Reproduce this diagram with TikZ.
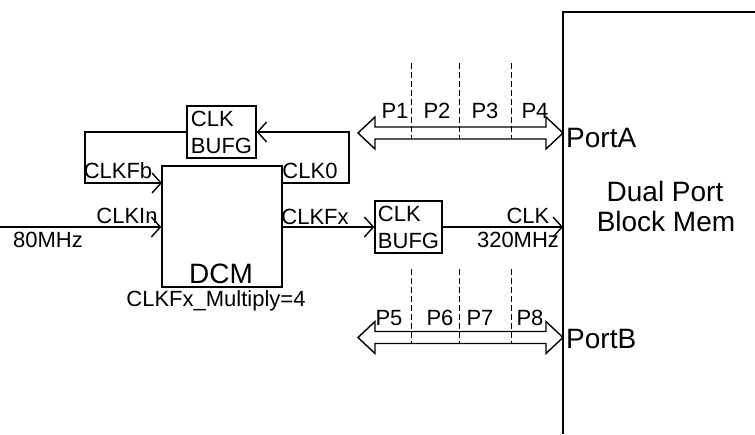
\documentclass[tikz,border=0pt]{standalone}
\usepackage{fontspec}
\setmainfont{Liberation Sans}
\usetikzlibrary{calc, arrows.meta}

\tikzset{
  blk/.style={draw, line width=1.4pt, rectangle, inner sep=0pt},
  sig/.style={line width=1.4pt, -{Straight Barb[length=9pt,width=20pt]}},
  lbl/.style={font=\fontsize{22}{27}\selectfont, inner sep=0pt, anchor=base},
  biglbl/.style={font=\fontsize{28}{30}\selectfont, inner sep=0pt, anchor=base},
  divider/.style={line width=0.8pt, dash pattern=on 6pt off 3pt},
  bus/.pic={
    \draw[line width=1.4pt, line join=miter] (0,0) -- (17,-16) -- (17,-6) -- (188,-6) -- (188,-16)
      -- (205,0) -- (188,16) -- (188,6) -- (17,6) -- (17,16) -- cycle;
  }
}

\begin{document}
\begin{tikzpicture}[x=1pt, y=-1pt]
  \useasboundingbox (0,0) rectangle (755,434);
  % blocks
  \node[blk, minimum width=120pt, minimum height=121pt] (dcm) at (222,226.5) {};
  \node[blk, minimum width=69pt, minimum height=52pt, align=left,
        font=\fontsize{22}{27}\selectfont] (bufgA) at (221.5,132) {CLK\\BUFG};
  \node[blk, minimum width=67pt, minimum height=52pt, align=left,
        font=\fontsize{22}{27}\selectfont] (bufgB) at (408.5,227) {CLK\\BUFG};
  % memory block
  \coordinate (memTR) at (755,12);
  \coordinate (memTL) at (563,12);
  \coordinate (memBL) at (563,434);
  \draw[line width=1.4pt] (memTR) -- (memTL) -- (memBL);
  % clock pins
  \coordinate (clk0) at (282,183);
  \coordinate (fbR) at (349,132);
  \coordinate (fbL) at (85,183);
  \coordinate (fbIn) at (162,183);
  \coordinate (inL) at (0,227);
  \draw[sig] (clk0) -| (fbR) -- (bufgA.east);
  \draw[sig] (bufgA.west) -| (fbL) -- (fbIn);
  \draw[sig] (inL) -- (inL -| dcm.west);
  \draw[sig] (dcm.east |- bufgB.west) -- (bufgB.west);
  \draw[sig] (bufgB.east) -- (bufgB.east -| memTL);
  % buses
  \pic (busA) at (358,133) {bus};
  \pic (busB) at (358,337.5) {bus};
  \foreach \x in {411,459,511} {
    \draw[divider] (\x,63) -- (\x,139);
    \draw[divider] (\x,269) -- (\x,343);
  }
  % labels
  \node[lbl] (lfb) at (118,178) {CLKFb};
  \node[lbl] (lclk0) at (310,178) {CLK0};
  \node[lbl] (lin) at (127,223) {CLKIn};
  \node[lbl] (lfx) at (315,224) {CLKFx};
  \node[lbl] (l80) at (48,247) {80MHz};
  \node[lbl] (lclk) at (528,223) {CLK};
  \node[lbl] (l320) at (518,247) {320MHz};
  \node[biglbl] (ldcm) at (221,283) {DCM};
  \node[lbl] (lmul) at (216,306) {CLKFx\_Multiply=4};
  \node[lbl] (p1) at (395,118) {P1};
  \node[lbl] (p2) at (437,118) {P2};
  \node[lbl] (p3) at (485,118) {P3};
  \node[lbl] (p4) at (535,118) {P4};
  \node[lbl] (p5) at (389,325) {P5};
  \node[lbl] (p6) at (440,325) {P6};
  \node[lbl] (p7) at (480,325) {P7};
  \node[lbl] (p8) at (530,325) {P8};
  \node[biglbl, anchor=base west] (pa) at (566,147) {PortA};
  \node[biglbl, anchor=base west] (pb) at (566,348) {PortB};
  \node[biglbl] (mem1) at (665,201) {Dual Port};
  \node[biglbl] (mem2) at (666,231) {Block Mem};
\end{tikzpicture}
\end{document}
